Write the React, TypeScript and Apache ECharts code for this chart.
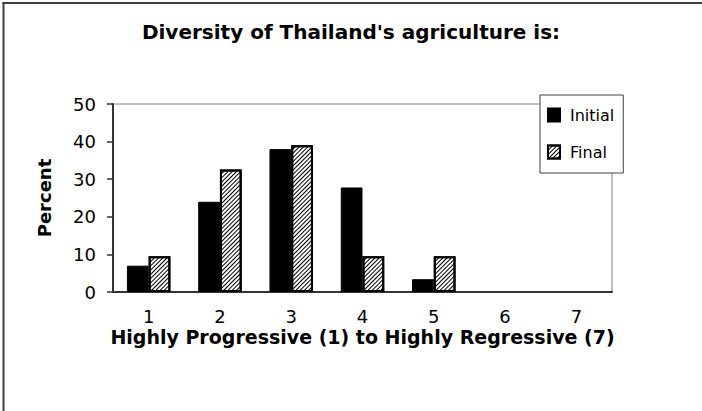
import React, { useEffect, useRef } from "react";
import * as echarts from "echarts";

const categories = ["1", "2", "3", "4", "5", "6", "7"];
const initialValues = [7, 24, 38, 27.8, 3.4, null, null];
const finalValues = [9.5, 32.6, 39, 9.5, 9.5, null, null];
const yTicks = { min: 0, max: 50, interval: 10 };

const FONT = "'DejaVu Sans', sans-serif";

const hatch = {
  symbol: "rect",
  symbolSize: 1,
  color: "#000",
  backgroundColor: "#fff",
  dashArrayX: [[1, 0]],
  dashArrayY: [1, 1.2],
  rotation: -Math.PI / 4,
};

export default function App() {
  const ref = useRef<HTMLDivElement>(null);
  useEffect(() => {
    document.body.style.margin = "0";
    const chart = echarts.init(ref.current!, undefined, { renderer: "svg" });
    chart.setOption({
      animation: false,
      backgroundColor: "#fff",
      title: {
        text: "Diversity of Thailand's agriculture is:",
        left: "center",
        top: 17,
        textStyle: { fontFamily: FONT, fontSize: 20, fontWeight: "bold", color: "#000" },
      },
      legend: {
        orient: "vertical",
        left: 540,
        top: 95,
        padding: [12, 9, 13, 7],
        itemGap: 21,
        itemWidth: 12,
        itemHeight: 13,
        backgroundColor: "#fff",
        borderColor: "#404040",
        borderWidth: 1,
        icon: "rect",
        textStyle: { fontFamily: FONT, fontSize: 16, color: "#000", padding: [0, 0, 0, 5] },
        data: ["Initial", "Final"],
      },
      grid: {
        left: 113,
        right: 90,
        top: 104,
        bottom: 119,
        show: true,
        borderColor: "#808080",
        borderWidth: 1,
        backgroundColor: "transparent",
      },
      xAxis: {
        type: "category",
        data: categories,
        axisLine: { lineStyle: { color: "#333", width: 2 } },
        axisTick: { length: 6, lineStyle: { color: "#333", width: 1.5 } },
        axisLabel: { fontFamily: FONT, fontSize: 18, color: "#000", margin: 15 },
        name: "Highly Progressive (1) to Highly Regressive (7)",
        nameLocation: "middle",
        nameGap: 35,
        nameTextStyle: { fontFamily: FONT, fontSize: 19, fontWeight: "bold", color: "#000" },
      },
      yAxis: {
        type: "value",
        min: yTicks.min,
        max: yTicks.max,
        interval: yTicks.interval,
        splitLine: { show: false },
        axisLine: { show: true, lineStyle: { color: "#333", width: 2 } },
        axisTick: { show: true, length: 6, lineStyle: { color: "#333", width: 1.5 } },
        axisLabel: { fontFamily: FONT, fontSize: 18, color: "#000", margin: 17 },
        name: "Percent",
        nameLocation: "middle",
        nameGap: 60,
        nameRotate: 90,
        nameTextStyle: { fontFamily: FONT, fontSize: 18, fontWeight: "bold", color: "#000" },
      },
      series: [
        {
          name: "Initial",
          type: "bar",
          data: initialValues,
          barGap: "0%",
          barCategoryGap: "39%",
          itemStyle: { color: "#000", borderColor: "#000", borderWidth: 1 },
        },
        {
          name: "Final",
          type: "bar",
          data: finalValues,
          itemStyle: { color: "#fff", borderColor: "#000", borderWidth: 2, decal: hatch },
        },
      ],
      graphic: [
        { type: "line", shape: { x1: 3.5, y1: 2, x2: 3.5, y2: 411 }, style: { stroke: "#404040", lineWidth: 2 } },
        { type: "line", shape: { x1: 2.5, y1: 3, x2: 702, y2: 3 }, style: { stroke: "#404040", lineWidth: 2 } },
      ],
    });
    return () => chart.dispose();
  }, []);
  return <div ref={ref} style={{ position: "absolute", left: 0, top: 0, width: 702, height: 411 }} />;
}
